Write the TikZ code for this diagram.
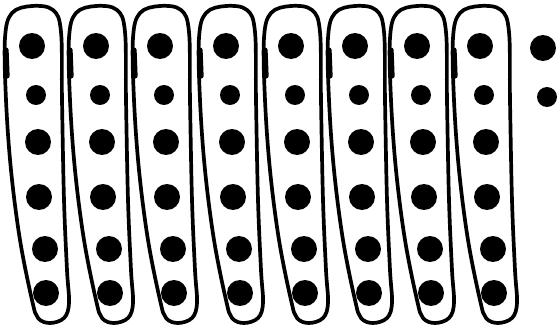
\documentclass[tikz,border=0pt]{standalone}
\usetikzlibrary{positioning}
\begin{document}
\begin{tikzpicture}[x=0.02cm, y=-0.02cm,
    group/.style={line width=2.1pt, line join=round},
    dot/.style={circle, fill=black, inner sep=0pt, minimum size=0.52cm},
    smalldot/.style={dot, minimum size=0.4cm}
]
\useasboundingbox (0,0) rectangle (559,331);
\foreach \s [count=\i] in {0,64,128,194,259,323,385,448} {
  \begin{scope}[shift={(\s,0)}]
    \draw[group] plot[smooth cycle, tension=0.6] coordinates {
      (5,38) (12,13) (32,6) (53,10) (61,32) (62,100) (64,200) (67,270)
      (69,303) (64,318) (50,323) (38,318) (32,300) (20,240) (11,170) (6,100)};
    \draw[line width=3pt, line cap=round] (6,50) -- (7,76);
    \node[dot] (d\i-1) at (32,46) {};
    \node[smalldot] (d\i-2) at (36,95) {};
    \node[dot] (d\i-3) at (38,142) {};
    \node[dot] (d\i-4) at (39,197) {};
    \node[dot] (d\i-5) at (45,249) {};
    \node[dot] (d\i-6) at (46,293) {};
  \end{scope}
}
\node[dot] (e1) at (543,48) {};
\node[smalldot] (e2) at (547,97) {};
\end{tikzpicture}
\end{document}
